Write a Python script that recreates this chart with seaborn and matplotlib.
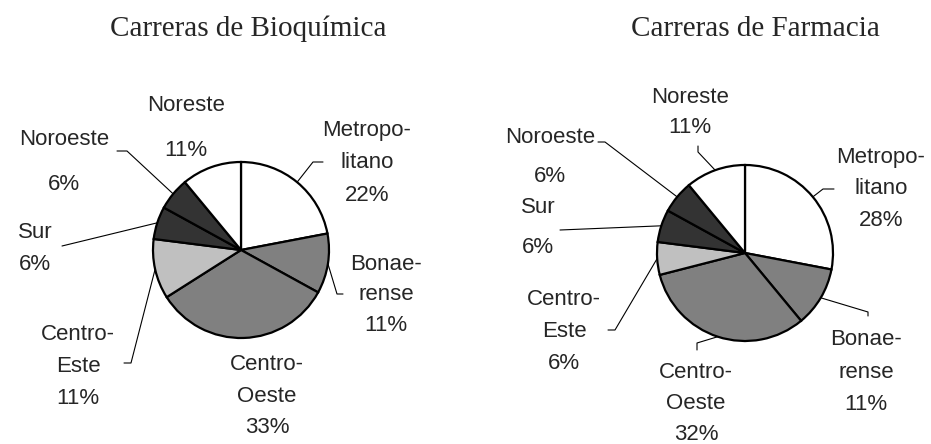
import numpy as np
import seaborn as sns
from matplotlib import pyplot as plt

# data
regions = ['Metropo-\nlitano', 'Bonae-\nrense', 'Centro-\nOeste', 'Centro-\nEste', 'Sur', 'Noroeste', 'Noreste']
bioquimica = [22, 11, 33, 11, 6, 6, 11]
farmacia = [28, 11, 32, 6, 6, 6, 11]
titles = ['Carreras de Bioquímica', 'Carreras de Farmacia']
greys = ['#ffffff', '#808080', '#808080', '#c0c0c0', '#333333', '#333333', '#ffffff']

sns.set_style('white')
plt.rcParams['font.family'] = ['Liberation Sans', 'DejaVu Sans']

W, H = 931, 444
R = 88

# layout in pixels (y from top): pie centre, title pos, label (x, first line y, line step), leader path
layouts = [
    dict(center=(241, 250), title=(248, 26),
         labels=[(367, 128, 32.5), (386, 262, 30.5), (267, 362, 31.5), (78, 332, 32),
                 (35, 230, 32), (64, 137, 45), (186, 103, 45)],
         leaders=[[(313, 162), (323, 162)], [(337, 294), (343, 294)], [],
                  [(131, 363), (124, 363)], [(62, 246)], [(127, 151), (117, 151)], []]),
    dict(center=(745, 253), title=(755, 26),
         labels=[(881, 155, 31.5), (866, 337, 32.5), (696, 370, 31), (564, 297, 32),
                 (538, 205, 40), (550, 135, 39), (690, 95, 30)],
         leaders=[[(823, 189), (834, 189)], [(868, 312), (868, 316)], [(697, 343), (697, 350)],
                  [(615, 330), (608, 330)], [(560, 230)], [(605, 142), (598, 142)],
                  [(698, 152), (698, 146)]]),
]

fig = plt.figure(figsize=(W / 100, H / 100), dpi=100)
ax = fig.add_axes([0, 0, 1, 1])

for values, title, lay in zip([bioquimica, farmacia], titles, layouts):
    cx, cy = lay['center']
    wedges, _ = ax.pie(values, colors=greys, startangle=90, counterclock=False,
                       center=(cx, H - cy), radius=R, frame=True,
                       wedgeprops=dict(edgecolor='black', linewidth=1.6))
    ax.text(lay['title'][0], H - lay['title'][1], title, ha='center', va='center_baseline',
            fontsize=21, family=['Liberation Serif'])
    for w, name, pct, (lx, ly, step), path in zip(wedges, regions, values, lay['labels'], lay['leaders']):
        lines = name.split('\n') + ['{}%'.format(pct)]
        for i, line in enumerate(lines):
            ax.text(lx, H - (ly + i * step), line, ha='center', va='center_baseline', fontsize=16)
        # leader line from the wedge edge at its mid angle
        if path:
            mid = np.deg2rad((w.theta1 + w.theta2) / 2)
            xs = [cx + R * np.cos(mid)] + [p[0] for p in path]
            ys = [H - cy + R * np.sin(mid)] + [H - p[1] for p in path]
            ax.plot(xs, ys, color='black', linewidth=0.8, zorder=0.5)

ax.set_xlim(0, W)
ax.set_ylim(0, H)
ax.set_aspect('equal')
ax.axis('off')
fig.savefig('out.png', dpi=100)
